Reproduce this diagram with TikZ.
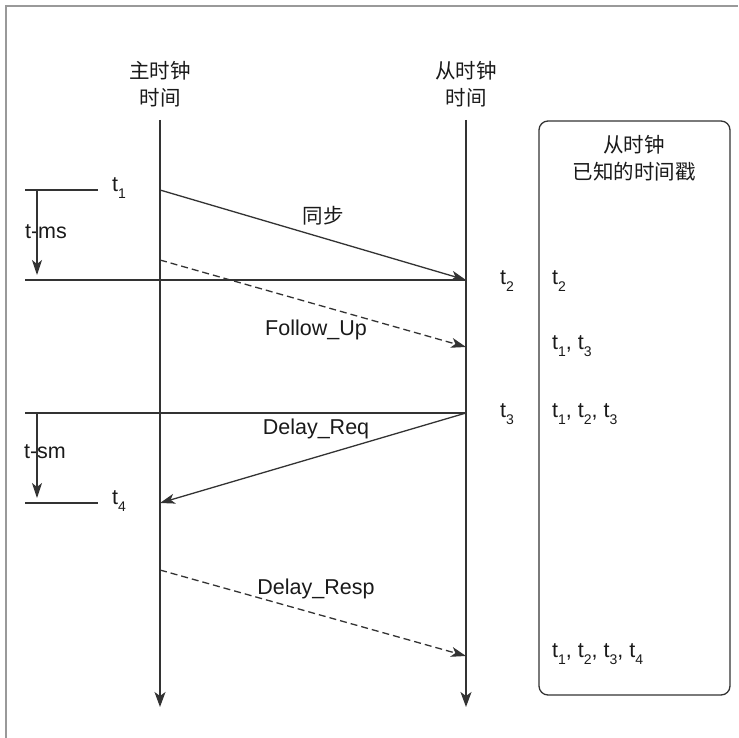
\documentclass[tikz,border=0pt]{standalone}
\usepackage{fontspec}
\setmainfont{Liberation Sans}
\newfontfamily\cjk{Noto Sans CJK SC}
\usetikzlibrary{arrows.meta}
\definecolor{ln}{HTML}{333333}
\definecolor{tx}{HTML}{1A1A1A}
\newcommand\tsub[1]{t\raisebox{-0.36em}{\fontsize{14}{14}\selectfont #1}}
\begin{document}
\begin{tikzpicture}[x=1pt,y=-1pt,
  lbl/.style={text=tx,font=\fontsize{21.5}{24}\selectfont,inner sep=0pt},
  cj/.style={text=tx,font=\cjk\fontsize{20.5}{27}\selectfont,align=center,inner sep=0pt},
  life/.style={draw=ln,line width=1.5pt,-{Stealth[length=15pt,width=11pt,inset=4pt]}},
  msg/.style={draw=ln,line width=1.3pt,-{Stealth[length=15pt,width=10pt,inset=4pt]}},
  dmsg/.style={msg,dash pattern=on 7pt off 4pt},
  hline/.style={draw=ln,line width=1.3pt},
  frame/.style={draw=gray!80,line width=1.6pt}]
\useasboundingbox (0,0) rectangle (738,738);
\draw[frame] (6,738) -- (6,6) -- (738,6);

% headings
\node[cj] (mh) at (160,84) {主时钟\\时间};
\node[cj] (sh) at (466,84) {从时钟\\时间};

% lifelines
\coordinate (mtop) at (160,120);
\coordinate (mbot) at (160,707);
\coordinate (stop) at (466,120);
\coordinate (sbot) at (466,707);
\draw[life] (mtop) -- (mbot);
\draw[life] (stop) -- (sbot);

% box
\draw[ln,line width=1.3pt,rounded corners=9pt] (539,121) rectangle (730,695);
\node[cj] (bh) at (634,158) {从时钟\\已知的时间戳};

% t1
\coordinate (t1a) at (25,190);
\coordinate (t1b) at (98,190);
\draw[hline] (t1a) -- (t1b);
\node[lbl,anchor=west] (t1) at (112,188) {\tsub{1}};
\coordinate (tmsa) at (37,190);
\coordinate (tmsb) at (37,275);
\draw[msg] (tmsa) -- (tmsb);
\node[lbl,fill=white,inner xsep=1pt] (tms) at (46,232) {t-ms};
\draw[ln,line width=1.3pt] (37,222) -- (37,242);

% t2 line
\coordinate (l2a) at (25,280);
\coordinate (l2b) at (466,280);
\draw[hline] (l2a) -- (l2b);

% sync
\coordinate (s1) at (160,190);
\coordinate (s2) at (466,280);
\draw[msg] (s1) -- (s2);
\node[cj] (sync) at (323,216) {同步};

% follow up
\coordinate (f1) at (160,260);
\coordinate (f2) at (466,347);
\draw[dmsg] (f1) -- (f2);
\node[lbl] (fu) at (316,330) {Follow\_Up};

% t3 line
\coordinate (l3a) at (25,413);
\coordinate (l3b) at (466,413);
\draw[hline] (l3a) -- (l3b);
\coordinate (tsma) at (37,413);
\coordinate (tsmb) at (37,498);
\draw[msg] (tsma) -- (tsmb);
\node[lbl,fill=white,inner xsep=1pt] (tsm) at (45,452) {t-sm};
\draw[ln,line width=1.3pt] (37,442) -- (37,462);

% delay req
\coordinate (d1) at (466,413);
\coordinate (d2) at (160,503);
\draw[msg] (d1) -- (d2);
\node[lbl] (dr) at (316,429) {Delay\_Req};

% t4
\coordinate (t4a) at (25,503);
\coordinate (t4b) at (98,503);
\draw[hline] (t4a) -- (t4b);
\node[lbl,anchor=west] (t4) at (112,501) {\tsub{4}};

% delay resp
\coordinate (r1) at (160,570);
\coordinate (r2) at (466,656);
\draw[dmsg] (r1) -- (r2);
\node[lbl] (drs) at (316,589) {Delay\_Resp};

% slave timestamps
\node[lbl,anchor=west] (st2) at (500,281) {\tsub{2}};
\node[lbl,anchor=west] (st3) at (500,414) {\tsub{3}};

% box contents
\node[lbl,anchor=west] (b1) at (552,281) {\tsub{2}};
\node[lbl,anchor=west] (b2) at (552,346) {\tsub{1}, \tsub{3}};
\node[lbl,anchor=west] (b3) at (552,414) {\tsub{1}, \tsub{2}, \tsub{3}};
\node[lbl,anchor=west] (b4) at (552,654) {\tsub{1}, \tsub{2}, \tsub{3}, \tsub{4}};
\end{tikzpicture}
\end{document}
